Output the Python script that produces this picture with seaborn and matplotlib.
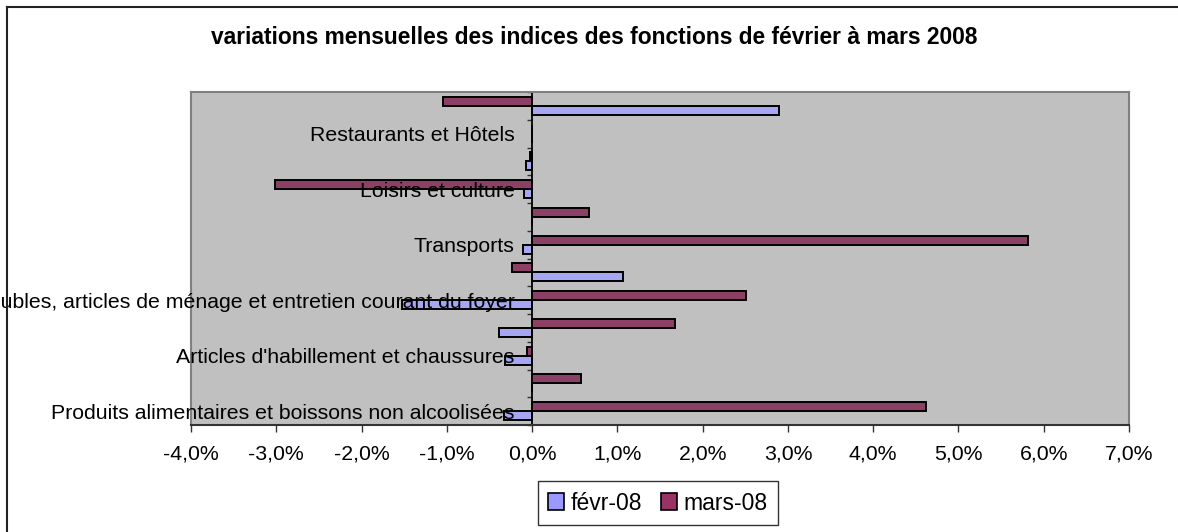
import pandas as pd
import numpy as np
import matplotlib
matplotlib.use("Agg")
import matplotlib.pyplot as plt
import seaborn as sns
from matplotlib.patches import Patch
from matplotlib.lines import Line2D
from matplotlib.ticker import FuncFormatter, FixedLocator

# Functions of consumption, from the bottom of the chart to the top
categories = [
    "Produits alimentaires et boissons non alcoolisées",
    "Boissons alcoolisées et tabac",
    "Articles d'habillement et chaussures",
    "Logement, eau, gaz, électricité et autres combustibles",
    "Meubles, articles de ménage et entretien courant du foyer",
    "Santé",
    "Transports",
    "Communications",
    "Loisirs et culture",
    "Enseignement",
    "Restaurants et Hôtels",
    "Biens et services divers",
]
# Excel only shows every other label
shown_labels = [
    "Produits alimentaires et boissons non alcoolisées",
    "Articles d'habillement et chaussures",
    "Meubles, articles de ménage et entretien courant du foyer",
    "Transports",
    "Loisirs et culture",
    "Restaurants et Hôtels",
]
# monthly variations in percent
fevr_08 = [-0.33, 0.0, -0.32, -0.39, -1.52, 1.07, -0.11, 0.0, -0.09, -0.07, 0.0, 2.90]
mars_08 = [4.62, 0.57, -0.06, 1.68, 2.51, -0.23, 5.82, 0.67, -3.01, -0.02, 0.0, -1.05]
series = ["févr-08", "mars-08"]
colors = {"févr-08": "#9999FF", "mars-08": "#993366"}
x_ticks = [-4, -3, -2, -1, 0, 1, 2, 3, 4, 5, 6, 7]
title = "variations mensuelles des indices des fonctions de février à mars 2008"

plt.rcParams['font.family'] = ['Liberation Sans', 'DejaVu Sans']

df = pd.DataFrame({
    "fonction": categories * 2,
    "mois": [series[0]] * len(categories) + [series[1]] * len(categories),
    "variation": fevr_08 + mars_08,
})

W, H = 1178, 532
fig = plt.figure(figsize=(W / 100, H / 100), dpi=100)
ax = fig.add_axes([191 / W, 1 - 425 / H, (1129 - 191) / W, (425 - 92) / H])
ax.set_facecolor("#C0C0C0")

# seaborn puts the first category on top, so reverse the order
order = categories[::-1]
sns.barplot(data=df, x="variation", y="fonction", hue="mois", order=order,
            hue_order=["mars-08", "févr-08"], palette=colors, orient="h",
            width=0.65, edgecolor="black", linewidth=1.4, legend=False, ax=ax)

ax.set_xlim(-4, 7)
ax.set_ylim(len(order) - 0.5, -0.5)
ax.set_xticks(x_ticks)
ax.xaxis.set_major_formatter(FuncFormatter(lambda v, p: f"{v:.1f}%".replace(".", ",")))
ax.tick_params(axis="x", labelsize=15.3, length=5, width=1, color="#333333", pad=9)

# labels next to the zero axis, small ticks at category boundaries
ax.spines["left"].set_position(("data", 0))
ax.spines["left"].set_color("black")
ax.spines["left"].set_linewidth(1.3)
ax.set_yticks([order.index(c) for c in shown_labels])
ax.set_yticklabels(shown_labels)
ax.yaxis.set_minor_locator(FixedLocator(np.arange(-0.5, len(order), 1.0)))
ax.tick_params(axis="y", which="major", length=0, labelsize=15.3, pad=12.5)
ax.tick_params(axis="y", which="minor", length=3.6, width=1, color="#333333")
for lab in ax.get_yticklabels():
    lab.set_clip_on(False)

ax.spines["bottom"].set_color("#333333")
ax.spines["bottom"].set_linewidth(1.5)
for s in ["top", "right"]:
    ax.spines[s].set_color("#808080")
    ax.spines[s].set_linewidth(1.5)
ax.add_line(Line2D([0, 0], [0, 1], transform=ax.transAxes, color="#808080",
                   linewidth=1.5, clip_on=False, zorder=0.5))
ax.set_xlabel("")
ax.set_ylabel("")

fig.text(594 / W, 1 - 37 / H, title, ha="center", va="center",
         fontsize=16.4, fontweight="bold")

handles = [Patch(facecolor=colors[s], edgecolor="black", linewidth=1.2, label=s) for s in series]
leg = fig.legend(handles=handles, loc="center", bbox_to_anchor=(658 / W, 1 - 503 / H),
                 ncol=2, fontsize=16.5, frameon=True, fancybox=False, edgecolor="black",
                 handlelength=0.7, handleheight=0.7, handletextpad=0.3,
                 columnspacing=0.8, borderpad=0.45, borderaxespad=0)
leg.get_frame().set_linewidth(1.0)

# outer chart border (only left and top are inside the picture)
fig.add_artist(Line2D([7 / W, 7 / W], [0, 1 - 7 / H], color="#222222", linewidth=1.5))
fig.add_artist(Line2D([7 / W, 1], [1 - 7 / H, 1 - 7 / H], color="#222222", linewidth=1.5))

fig.savefig("out.png", dpi=100)
